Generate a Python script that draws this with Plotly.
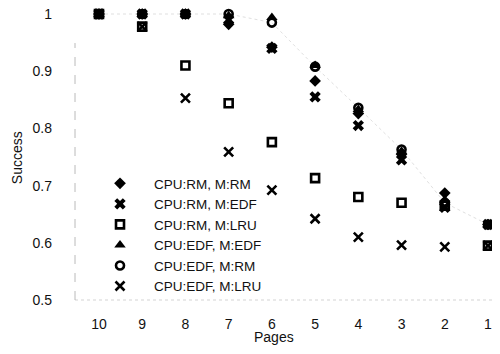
import plotly.graph_objects as go

pages = [10, 9, 8, 7, 6, 5, 4, 3, 2, 1]
rm_rm = [1.0, 1.0, 1.0, 0.982, 0.942, 0.883, 0.826, 0.755, 0.687, 0.632]
rm_edf = [1.0, 1.0, 1.0, 0.990, 0.940, 0.855, 0.805, 0.745, 0.662, 0.632]
rm_lru = [1.0, 0.978, 0.910, 0.844, 0.776, 0.713, 0.680, 0.670, 0.665, 0.595]
edf_edf = [1.0, 1.0, 1.0, 0.997, 0.994, 0.910, 0.833, 0.760, 0.675, 0.632]
edf_rm = [1.0, 1.0, 1.0, 1.0, 0.985, 0.908, 0.836, 0.763, 0.670, 0.632]
edf_lru = [1.0, 0.978, 0.853, 0.759, 0.692, 0.642, 0.610, 0.596, 0.593, 0.595]

y_ticks = [0.5, 0.6, 0.7, 0.8, 0.9, 1.0]
y_ticktext = ["0.5", "0.6", "0.7", "0.8", "0.9", "1"]
x_ticks = pages
x_ticktext = [str(p) for p in pages]

series = [
    ("CPU:RM, M:RM", rm_rm, dict(symbol="diamond", size=9, color="black")),
    ("CPU:RM, M:EDF", rm_edf, dict(symbol="x", size=10, color="black")),
    ("CPU:RM, M:LRU", rm_lru, dict(symbol="square-open", size=8, color="black", line=dict(width=2.6, color="black"))),
    ("CPU:EDF, M:EDF", edf_edf, dict(symbol="triangle-up", size=10, color="black")),
    ("CPU:EDF, M:RM", edf_rm, dict(symbol="circle-open", size=8, color="black", line=dict(width=2.6, color="black"))),
    ("CPU:EDF, M:LRU", edf_lru, dict(symbol="x-thin-open", size=9, color="black", line=dict(width=2.6, color="black"))),
]

fig = go.Figure()

# faint dotted trend line (scan residue)
fig.add_trace(go.Scatter(x=pages, y=edf_rm, mode="lines", showlegend=False,
                         line=dict(color="rgba(150,150,150,0.3)", width=1, dash="dot"),
                         hoverinfo="skip"))

for name, vals, marker in series:
    fig.add_trace(go.Scatter(x=pages, y=vals, mode="markers", name=name, marker=marker))

font_family = "Liberation Sans, Arial, Helvetica, sans-serif"

# the page body has an 8px margin; size the figure so it fits the window with no scrollbars
fig.update_layout(
    width=484, height=338,
    margin=dict(l=67, r=0, t=0, b=46),
    paper_bgcolor="white", plot_bgcolor="white",
    font=dict(family=font_family, color="#111", size=14),
    showlegend=True,
    legend=dict(x=0.0264, y=0.452, xanchor="left", yanchor="top",
                bgcolor="rgba(0,0,0,0)", font=dict(size=13.5, color="#111"),
                itemwidth=58, tracegroupgap=0),
    xaxis=dict(range=[10.555, 0.9075], tickmode="array", tickvals=x_ticks, ticktext=x_ticktext,
               showgrid=False, zeroline=False, showline=False, ticks="",
               ticklabelstandoff=14, automargin=False, ticklabeloverflow="allow"),
    yaxis=dict(range=[0.5, 1.0105], tickmode="array", tickvals=y_ticks, ticktext=y_ticktext,
               showgrid=False, zeroline=False, showline=False, ticks="",
               ticklabelstandoff=22, automargin=False, ticklabeloverflow="allow"),
    annotations=[
        dict(text="Success", textangle=-90, xref="paper", yref="paper",
             x=-0.139, y=0.486, xanchor="center", yanchor="middle",
             showarrow=False, font=dict(size=14, color="#111")),
        dict(text="Pages", xref="paper", yref="paper",
             x=0.477, y=-0.1575, xanchor="center", yanchor="bottom", borderpad=0,
             showarrow=False, font=dict(size=14, color="#111")),
    ],
    shapes=[
        dict(type="line", xref="paper", yref="paper", x0=0, x1=0, y0=0, y1=0.88,
             line=dict(color="rgba(140,140,140,0.6)", width=1, dash="dash")),
        dict(type="line", xref="paper", yref="paper", x0=0, x1=1, y0=0, y1=0,
             line=dict(color="rgba(170,170,170,0.5)", width=1, dash="dot")),
    ],
)

fig.write_html("out.html")
